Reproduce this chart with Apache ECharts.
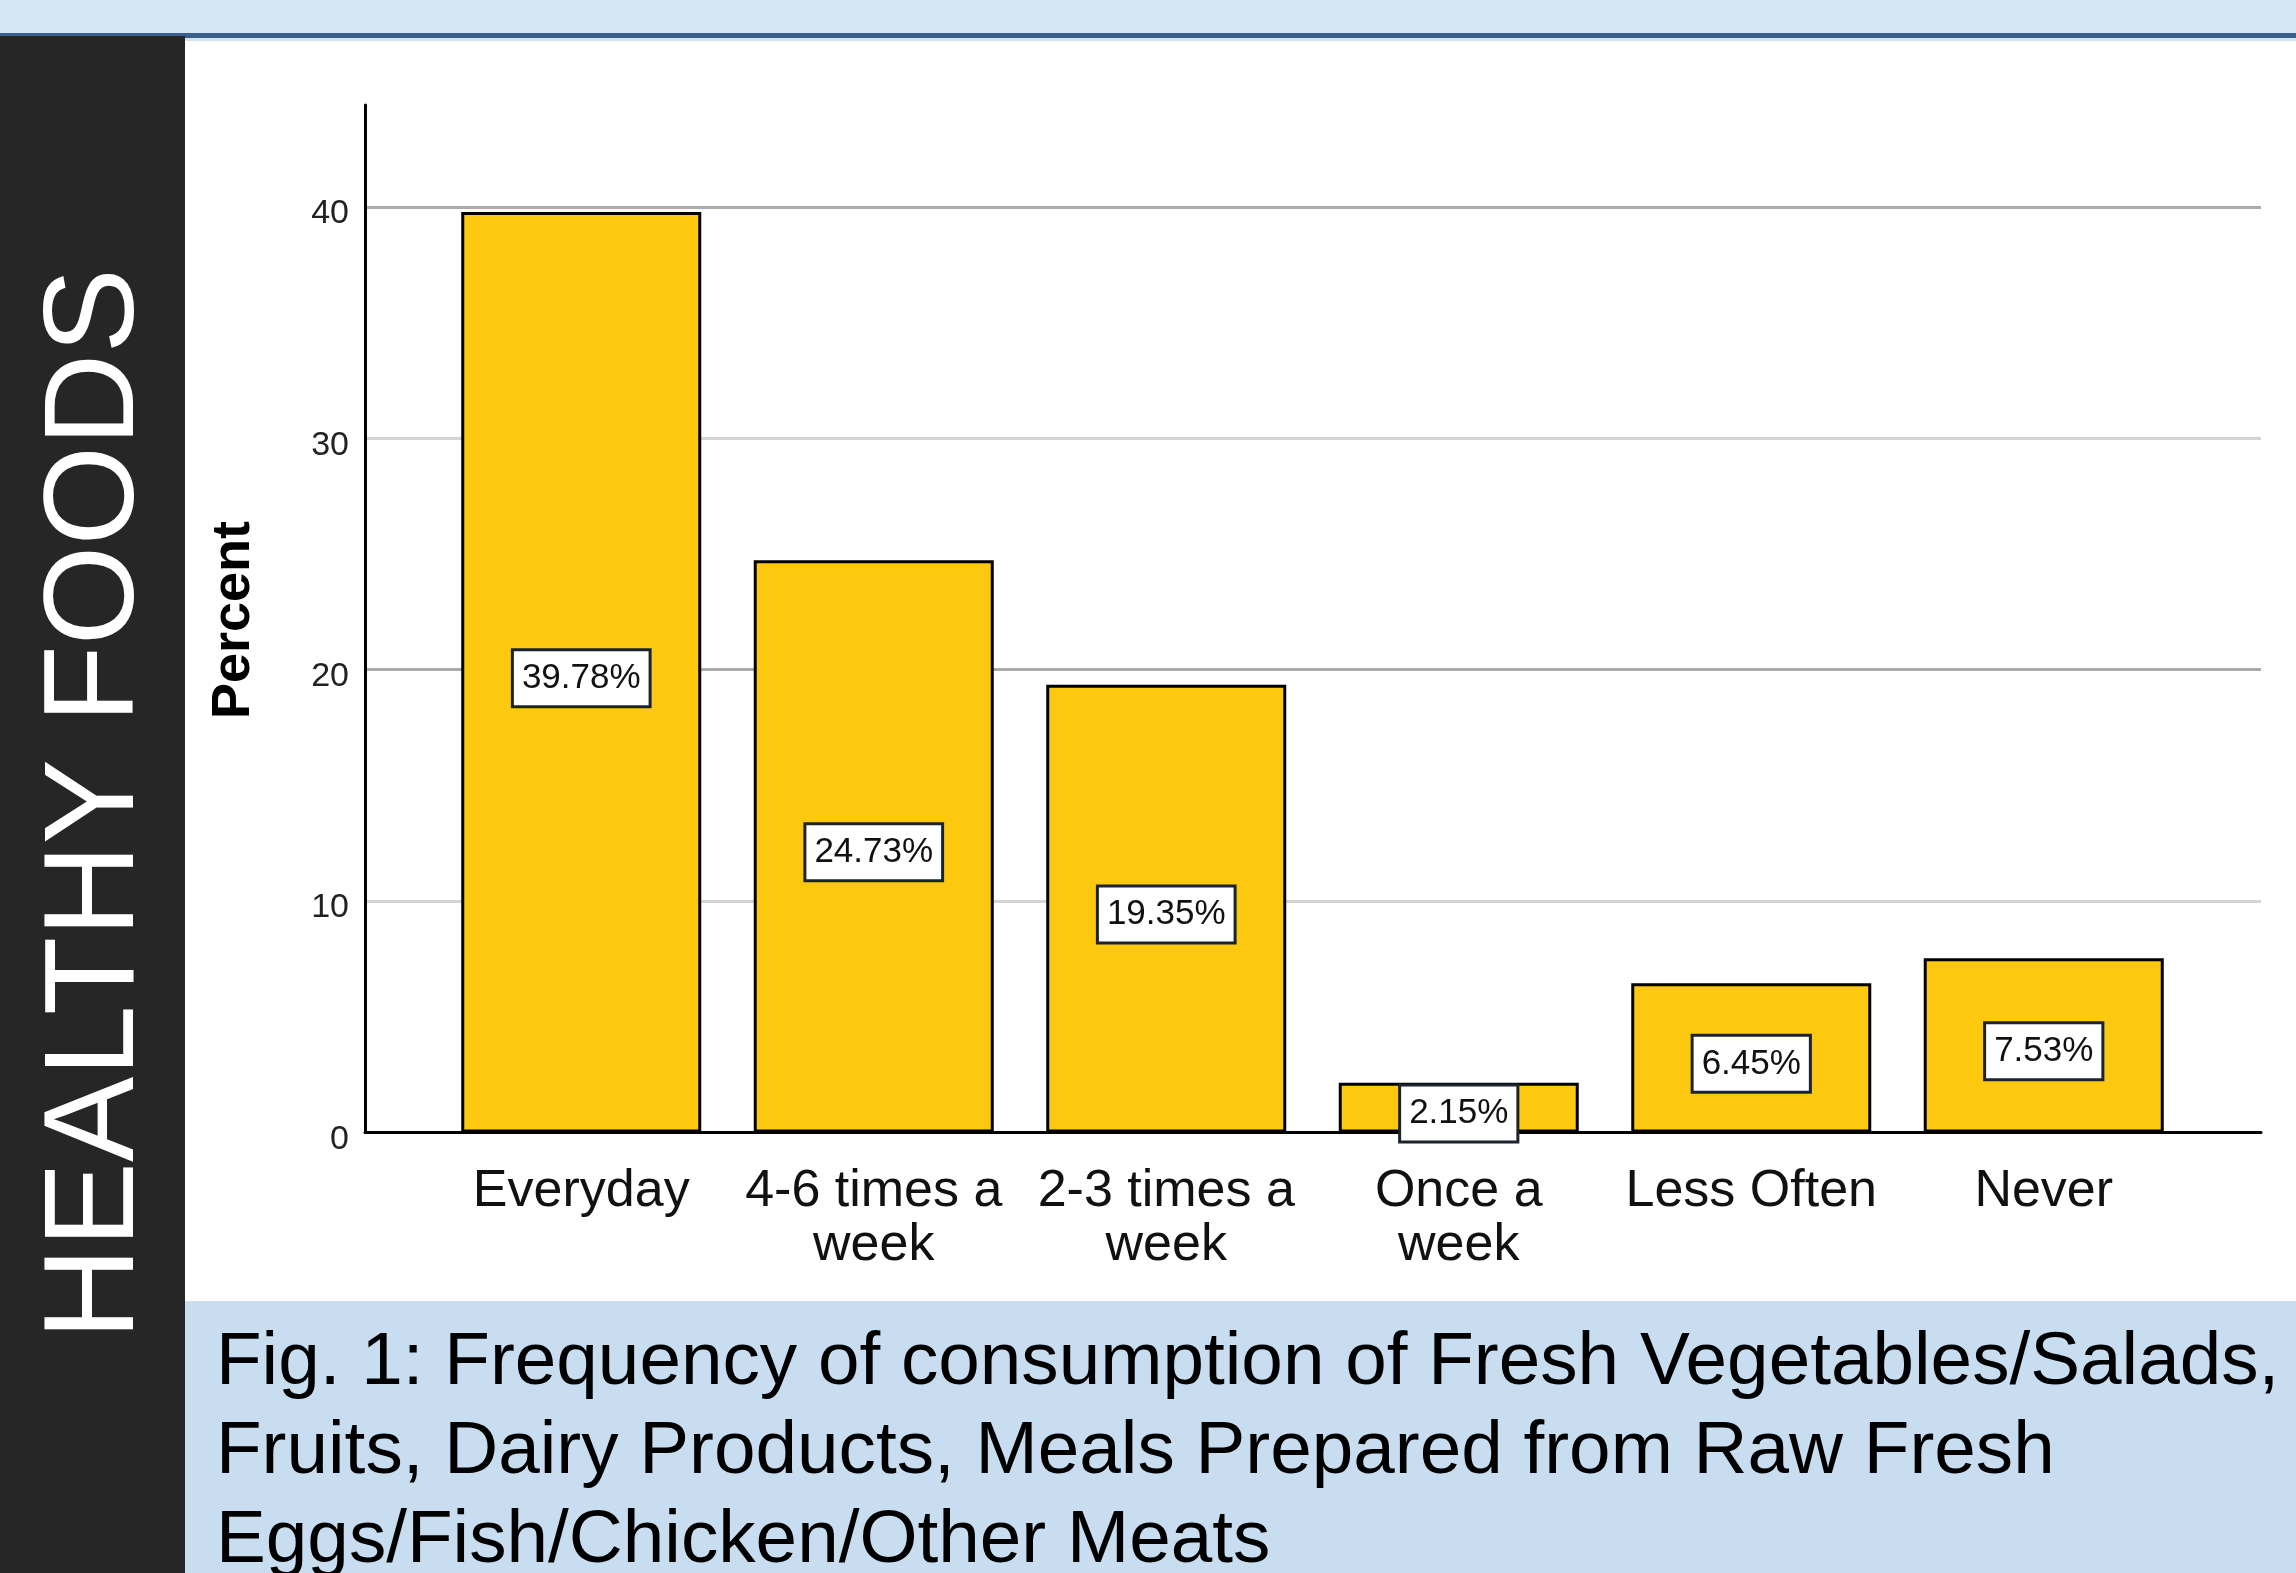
<!DOCTYPE html>
<html>
<head>
<meta charset="utf-8">
<script src="https://cdn.jsdelivr.net/npm/echarts@6/dist/echarts.min.js"></script>
<style>
  html, body { margin: 0; padding: 0; background: #ffffff; }
  #chart { width: 2296px; height: 1573px; }
</style>
</head>
<body>
<div id="chart"></div>
<script>
// Frequency categories and their share of respondents (%)
const categories = ['Everyday', '4-6 times a week', '2-3 times a week', 'Once a week', 'Less Often', 'Never'];
const percents = [39.78, 24.73, 19.35, 2.15, 6.45, 7.53];
const yTicks = [0, 10, 20, 30, 40];
const yMax = 44.4;

const sideTitle = 'HEALTHY FOODS';
const axisTitle = 'Percent';
const captionLines = [
  'Fig. 1: Frequency of consumption of Fresh Vegetables/Salads,',
  'Fruits, Dairy Products, Meals Prepared from Raw Fresh',
  'Eggs/Fish/Chicken/Other Meats'
];

const FONT = "'Liberation Sans', Arial, sans-serif";
const chart = echarts.init(document.getElementById('chart'));

chart.setOption({
  animation: false,
  backgroundColor: '#ffffff',
  graphic: [
    // header band
    { type: 'rect', z: 0, shape: { x: 0, y: 0, width: 2296, height: 33 }, style: { fill: '#d5e6f4' } },
    { type: 'rect', z: 0, shape: { x: 0, y: 33, width: 2296, height: 5 }, style: { fill: '#3b5f8d' } },
    { type: 'rect', z: 0, shape: { x: 0, y: 38, width: 2296, height: 3 }, style: { fill: '#d2e2f1' } },
    // dark side panel
    { type: 'rect', z: 0, shape: { x: 0, y: 36, width: 185, height: 1537 }, style: { fill: '#262626' } },
    // caption band
    { type: 'rect', z: 0, shape: { x: 185, y: 1301, width: 2111, height: 272 }, style: { fill: '#c8ddf0' } },
    {
      type: 'text', z: 1, x: 98, y: 804, rotation: Math.PI / 2,
      style: { text: sideTitle, fill: '#ffffff', fontSize: 128, fontFamily: FONT, align: 'center', verticalAlign: 'middle' }
    },
    {
      type: 'text', z: 1, x: 234, y: 620, rotation: Math.PI / 2,
      style: { text: axisTitle, fill: '#000000', fontSize: 54, fontWeight: 'bold', fontFamily: FONT, align: 'center', verticalAlign: 'middle' }
    },
    {
      type: 'text', z: 1, x: 216, y: 1319,
      style: { text: captionLines.join('\n'), fill: '#000000', fontSize: 74.7, lineHeight: 89, fontFamily: FONT, align: 'left', verticalAlign: 'top' }
    }
  ],
  grid: [
    { left: 365, right: 35, top: 105, bottom: 440.5 },
    { left: 435, right: 106, top: 105, bottom: 440.5 }
  ],
  xAxis: [
    {
      gridIndex: 0, type: 'value', min: 0, max: 1,
      axisLine: { show: true, lineStyle: { color: '#000000', width: 3 } },
      axisTick: { show: false }, axisLabel: { show: false }, splitLine: { show: false }
    },
    {
      gridIndex: 1, type: 'category', data: categories,
      axisLine: { show: false }, axisTick: { show: false },
      axisLabel: {
        interval: 0, margin: 32, fontSize: 52, lineHeight: 54, color: '#111111', fontFamily: FONT,
        formatter: v => v.replace(' a week', ' a\nweek')
      }
    }
  ],
  yAxis: [
    {
      gridIndex: 0, type: 'value', min: 0, max: yMax, interval: 10,
      axisLine: { show: true, lineStyle: { color: '#000000', width: 3 } },
      axisTick: { show: false },
      axisLabel: {
        margin: 16,
        formatter: v => (yTicks.includes(v) ? '{t|' + v + '}' : ''),
        rich: { t: { fontSize: 34, color: '#222222', fontFamily: FONT, padding: [14, 0, 0, 0] } }
      },
      splitLine: { show: true, showMaxLine: false, lineStyle: { color: ['#ababab', '#d4d4d4'], width: 3 } }
    },
    { gridIndex: 1, type: 'value', min: 0, max: yMax, show: false }
  ],
  series: [
    {
      type: 'bar', xAxisIndex: 1, yAxisIndex: 1,
      data: percents, barWidth: 240,
      itemStyle: { color: '#fdc910', borderColor: '#000000', borderWidth: 3 },
      label: {
        show: true, position: 'inside', offset: [0, 6],
        formatter: p => p.value.toFixed(2) + '%',
        fontSize: 35, color: '#111111', fontFamily: FONT,
        backgroundColor: '#ffffff', borderColor: '#1b232d', borderWidth: 3,
        padding: [10, 8, 9, 8]
      }
    }
  ]
});
</script>
</body>
</html>
